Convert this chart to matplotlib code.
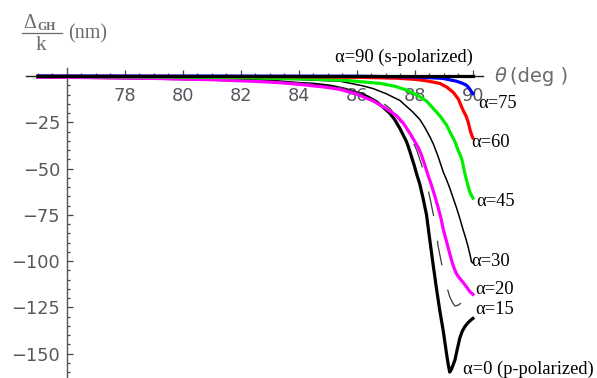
import matplotlib
matplotlib.use("Agg")
import matplotlib.pyplot as plt
from matplotlib.ticker import FixedLocator
from matplotlib.lines import Line2D

# Goos-Hänchen shift per wavenumber vs incidence angle, for several polarisation angles
theta_a0 = [75.0, 77.0, 79.0, 81.0, 82.5, 83.3, 84.0, 84.5, 85.1, 85.6, 86.1, 86.4, 86.68,
            86.9, 87.14, 87.3, 87.48, 87.6, 87.71, 87.8, 87.89, 87.98, 88.06, 88.17, 88.28,
            88.4, 88.5, 88.62, 88.74, 88.86, 88.98, 89.09, 89.15, 89.2, 89.26, 89.38, 89.47,
            89.55, 89.63, 89.72, 89.82, 89.92, 90.0]
shift_a0 = [-0.5, -0.8, -1.2, -1.8, -2.5, -3.1, -4.0, -4.4, -5.5, -7.2, -9.5, -11.5, -14.0,
            -16.8, -20.2, -23.5, -28.3, -32.0, -35.5, -39.5, -44.0, -48.5, -53.0, -58.5, -66.0,
            -75.0, -87.0, -101.0, -114.5, -127.0, -138.0, -150.0, -156.0, -160.0, -158.5,
            -153.5, -147.0, -141.5, -138.0, -135.5, -133.5, -132.0, -131.0]

theta_a15 = [75.0, 78.0, 80.0, 82.0, 83.3, 84.0, 84.8, 85.5, 86.2, 86.8, 87.14, 87.4, 87.66,
             87.9, 88.06, 88.2, 88.34, 88.52, 88.69, 88.8, 88.98, 89.1, 89.2, 89.3, 89.38,
             89.5, 89.61, 89.78, 89.92, 90.0]
shift_a15 = [-0.5, -0.9, -1.4, -2.2, -3.0, -3.7, -4.8, -6.5, -9.5, -13.5, -17.5, -22.5, -28.3,
             -34.5, -40.0, -46.5, -53.5, -66.0, -79.0, -92.0, -106.0, -114.0, -119.3, -122.5,
             -124.3, -123.8, -122.5, -122.0, -123.2, -123.0]

theta_a20 = [75.0, 77.0, 79.0, 81.0, 82.5, 83.34, 84.2, 85.0, 85.4, 86.0, 86.56, 87.0, 87.37,
             87.6, 87.83, 88.0, 88.11, 88.22, 88.34, 88.45, 88.55, 88.68, 88.8, 88.9, 88.98,
             89.1, 89.2, 89.3, 89.38, 89.45, 89.55, 89.66, 89.78, 89.9, 90.0]
shift_a20 = [-0.6, -0.9, -1.3, -2.0, -2.9, -3.6, -4.8, -6.2, -7.2, -9.8, -13.5, -17.5, -21.5,
             -25.5, -31.0, -35.5, -38.5, -42.5, -48.0, -53.5, -58.0, -64.5, -71.0, -77.0, -83.0,
             -90.0, -96.0, -101.5, -105.0, -107.3, -109.5, -111.5, -114.0, -116.6, -118.0]

theta_a30 = [75.0, 78.0, 80.0, 82.0, 84.0, 85.41, 86.2, 86.56, 87.0, 87.48, 87.93, 88.17,
             88.35, 88.52, 88.63, 88.8, 88.98, 89.09, 89.2, 89.32, 89.43, 89.55, 89.66, 89.75,
             89.83, 89.9, 89.95, 90.0]
shift_a30 = [-0.3, -0.5, -0.8, -1.3, -1.9, -2.8, -5.3, -6.8, -9.5, -13.2, -19.5, -23.5,
             -28.0, -33.0, -36.5, -43.5, -52.0, -56.0, -60.5, -66.0, -71.0, -77.0, -83.0, -87.5,
             -92.0, -96.5, -100.4, -101.0]

theta_a45 = [75.0, 78.0, 80.0, 82.0, 83.34, 84.5, 85.64, 86.8, 87.3, 87.71, 88.0, 88.17, 88.4,
             88.63, 88.86, 89.09, 89.25, 89.38, 89.5, 89.61, 89.66, 89.72, 89.8, 89.9, 90.0]
shift_a45 = [-0.2, -0.4, -0.6, -0.9, -1.3, -1.7, -2.4, -4.0, -5.5, -7.6, -9.8, -11.2, -13.5,
             -17.5, -21.5, -26.5, -31.5, -35.5, -40.5, -44.5, -48.0, -52.5, -57.5, -63.0, -66.0]

theta_a60 = [75.0, 80.0, 84.0, 86.0, 87.37, 88.0, 88.4, 88.86, 89.1, 89.32, 89.5, 89.66,
             89.76, 89.84, 89.9, 89.95, 90.0]
shift_a60 = [-0.1, -0.2, -0.4, -0.7, -1.2, -1.8, -2.6, -4.0, -6.0, -8.8, -12.5, -18.5,
             -21.5, -25.0, -29.0, -31.5, -33.5]

theta_a75 = [75.0, 86.0, 88.0, 88.97, 89.43, 89.65, 89.78, 89.88, 89.95, 90.0]
shift_a75 = [0.0, -0.1, -0.5, -1.3, -2.8, -4.0, -5.0, -6.8, -8.5, -9.5]

theta_a90 = [75.0, 90.0]
shift_a90 = [0.0, 0.0]

x_major = [78, 80, 82, 84, 86, 88, 90]
y_major = [-150, -125, -100, -75, -50, -25]

W, H = 597, 378
fig = plt.figure(figsize=(W / 100, H / 100), dpi=100)
ax = fig.add_axes([0, 0, 1, 1])
ax.set_xlim(73.69, 94.28)
ax.set_ylim(-163.2, 41.08)
ax.patch.set_alpha(0)

tick_col = "#55595f"
ax.spines["top"].set_visible(False)
ax.spines["right"].set_visible(False)
ax.spines["bottom"].set_position(("data", 0))
ax.spines["left"].set_position(("data", 76))
ax.spines["bottom"].set_bounds(74.6, 90.35)
ax.spines["left"].set_bounds(-163.2, 4.3)
ax.spines["bottom"].set_color("#222222")
ax.spines["left"].set_color("#555555")
ax.spines["bottom"].set_linewidth(1.0)
ax.spines["left"].set_linewidth(1.0)

ax.xaxis.set_major_locator(FixedLocator(x_major))
ax.xaxis.set_minor_locator(FixedLocator([75 + 0.5 * i for i in range(31)]))
ax.yaxis.set_major_locator(FixedLocator(y_major))
ax.yaxis.set_minor_locator(FixedLocator([-160 + 5 * i for i in range(32)]))
ax.set_xticklabels([str(v) for v in x_major])
ax.set_yticklabels([f"\u2212{abs(v)}" for v in y_major])
ax.tick_params(which="both", direction="in", colors="#444444", labelcolor=tick_col,
               labelsize=12.8, width=0.9)
ax.tick_params(axis="x", which="major", length=4, pad=8)
ax.tick_params(axis="x", which="minor", length=2.2)
ax.tick_params(axis="y", which="major", length=4, pad=5)
ax.tick_params(axis="y", which="minor", length=2.2)

thick = 2.3
ax.plot(theta_a0, shift_a0, color="black", lw=thick, zorder=3, solid_joinstyle="round")
ax.plot(theta_a15, shift_a15, color="#3a3a3a", lw=0.9, dashes=(20, 20), zorder=3.1)
ax.plot(theta_a20, shift_a20, color="#ff00ff", lw=thick, zorder=3.2, solid_joinstyle="round")
ax.plot(theta_a30, shift_a30, color="black", lw=1.1, zorder=3.3)
ax.plot(theta_a45, shift_a45, color="#00ee00", lw=thick, zorder=3.4, solid_joinstyle="round")
ax.plot(theta_a60, shift_a60, color="#ff0000", lw=thick, zorder=3.5, solid_joinstyle="round")
ax.plot(theta_a75, shift_a75, color="#0000ff", lw=thick, zorder=3.6, solid_joinstyle="round")
ax.plot(theta_a90, shift_a90, color="black", lw=thick, zorder=3.7)

serif = "Liberation Serif"
lab = dict(family=serif, fontsize=13.3, color="black", va="center", ha="left", zorder=5)
ax.text(87.62, 10.3, "\u03b1=90 (s-polarized)", **{**lab, "ha": "center"})
ax.text(90.17, -14.6, "\u03b1=75", **lab)
ax.text(89.95, -35.7, "\u03b1=60", **lab)
ax.text(90.13, -68.0, "\u03b1=45", **lab)
ax.text(89.95, -100.5, "\u03b1=30", **lab)
ax.text(90.07, -115.4, "\u03b1=20", **lab)
ax.text(90.07, -126.2, "\u03b1=15", **lab)
ax.text(89.66, -158.4, "\u03b1=0 (p-polarized)", **lab)

# axis titles in pixel positions
def px(x, y):
    return x / W, 1 - y / H

grey = "#6b6b6b"
fig.text(*px(495, 76), "\u03b8", family="DejaVu Sans", style="italic", fontsize=14,
         color=grey, va="center", ha="left")
fig.text(*px(510, 76), "(deg )", family="DejaVu Sans", fontsize=14, color=grey,
         va="center", ha="left")

fig.text(*px(23, 23), "\u0394", family=serif, fontsize=14.5, color=grey, va="center", ha="left")
fig.text(*px(37, 26.5), "GH", family=serif, fontsize=8.5, color=grey, va="center", ha="left",
         weight="bold")
fig.add_artist(Line2D([22 / W, 62 / W], [1 - 32.5 / H, 1 - 32.5 / H], color=grey, lw=0.9))
fig.text(*px(41, 45), "k", family=serif, fontsize=15, color=grey, va="center", ha="center")
fig.text(*px(68, 34), "(nm)", family=serif, fontsize=14.5, color=grey, va="center", ha="left")

fig.savefig("out.png", dpi=100)
